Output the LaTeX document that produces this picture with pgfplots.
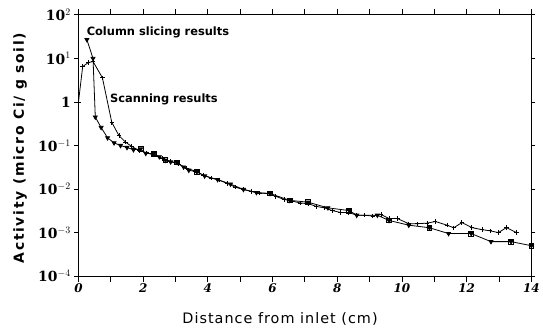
\documentclass[border=0pt]{standalone}
\usepackage{pgfplots}
\pgfplotsset{compat=1.18}
\usepackage{fontspec}
\setmainfont{DejaVu Sans}
\newfontfamily\annfont{DejaVu Sans}
\newfontfamily\tickfont{DejaVu Serif}
\newfontfamily\ylabfont[LetterSpace=12]{DejaVu Sans}
\newfontfamily\xlabfont[LetterSpace=7]{DejaVu Sans}
\begin{document}
\begin{tikzpicture}
\begin{axis}[
  name=ax,
  scale only axis,
  width=456pt, height=263pt,
  ymode=log,
  xmin=0, xmax=14,
  ymin=1e-4, ymax=1e2,
  xtick={0,2,...,14},
  minor x tick num=1,
  ytick={1e-4,1e-3,1e-2,1e-1,1,1e1,1e2},
  yticklabels={{10$^{-4}$},{10$^{-3}$},{10$^{-2}$},{10$^{-1}$},{1},{10$^{1}$},{10$^{2}$}},
  yminorticks=false,
  xticklabel style={font=\tickfont\bfseries\itshape\fontsize{12}{12}\selectfont},
  yticklabel style={font=\tickfont\bfseries\fontsize{14}{14}\selectfont},
  /pgf/number format/assume math mode=true,
  tick align=outside,
  xtick style={/pgfplots/major tick length=6pt, /pgfplots/minor tick length=6pt},
  ytick style={/pgfplots/major tick length=4pt},
  axis line style={line width=1pt},
  every tick/.style={black, line width=0.9pt},
  clip=false,
  xlabel={Distance from inlet (cm)},
  ylabel={Activity (micro Ci/ g soil)},
  x label style={at={(axis description cs:0.445,-0.163)}, anchor=center, font=\xlabfont\fontsize{14.5}{15}\selectfont},
  y label style={at={(axis description cs:-0.129,0.49)}, anchor=center, font=\ylabfont\bfseries\fontsize{14}{15}\selectfont},
]
% Scanning results
\addplot[black, line width=0.8pt, mark=+, mark size=2.2pt] coordinates {
(0,1) (0.13,6.5) (0.3,8) (0.45,8.5) (0.74,3.6) (1.03,0.34) (1.25,0.17)
(1.45,0.12) (1.65,0.095) (1.87,0.077) (2.1,0.068) (2.35,0.06) (2.6,0.05)
(2.85,0.043) (3.1,0.037) (3.35,0.03) (3.6,0.026) (3.85,0.021) (4.1,0.018)
(4.35,0.016) (4.6,0.0135) (4.85,0.011) (5.1,0.0098) (5.35,0.0088) (5.6,0.0081)
(5.85,0.0079) (6.1,0.0068) (6.35,0.0058) (6.6,0.0053) (6.85,0.0048) (7.1,0.0046)
(7.35,0.004) (7.6,0.0037) (7.85,0.0032) (8.1,0.0029) (8.35,0.0029) (8.6,0.0025)
(8.85,0.0025) (9.1,0.0024) (9.35,0.0026) (9.6,0.0021) (9.86,0.0021) (10.21,0.0016)
(10.47,0.0016) (10.78,0.00165) (11.03,0.0018) (11.39,0.00148) (11.6,0.00129)
(11.85,0.0017) (12.16,0.0013) (12.47,0.00117) (12.72,0.0011) (12.98,0.001)
(13.23,0.0013) (13.54,0.001)
};
% Column slicing results
\addplot[black, line width=0.8pt, mark=triangle*, mark size=2.3pt,
  every mark/.append style={rotate=180}] coordinates {
(0.26,27) (0.45,10) (0.52,0.45) (0.7,0.26) (0.9,0.15) (1.1,0.115) (1.3,0.1)
(1.5,0.09) (1.7,0.08) (1.92,0.083) (2.08,0.066) (2.33,0.065) (2.5,0.055)
(2.69,0.046) (2.85,0.042) (3.05,0.041) (3.25,0.032) (3.41,0.027) (3.66,0.025)
(3.9,0.02) (4.3,0.0165) (4.7,0.013) (5.1,0.0098) (5.5,0.0083) (5.92,0.0079)
(6.53,0.0055) (7.09,0.005) (7.71,0.0037) (8.37,0.0032) (8.6,0.0025) (9.24,0.0025)
(9.6,0.0019) (10.21,0.00148) (10.85,0.00129) (11.44,0.00095) (12.14,0.00095)
(12.75,0.00062) (13.37,0.00062) (14,0.0005)
};
% square marks on the column slicing curve
\addplot[only marks, black, mark=square, mark size=2.4pt, line width=0.8pt, mark options={fill=white}] coordinates {
(1.92,0.083) (2.33,0.065) (2.69,0.046) (3.05,0.041) (3.66,0.025) (5.92,0.0079)
(6.53,0.0055) (7.09,0.005) (8.37,0.0032) (9.6,0.0019) (10.85,0.00129)
(12.14,0.00095) (13.37,0.00062) (14,0.0005)
};
\node[anchor=west, font=\annfont\bfseries\fontsize{11.5}{11.5}\selectfont, inner sep=0pt] at (axis cs:0.25,39) {Column slicing results};
\node[anchor=west, font=\annfont\bfseries\fontsize{11.5}{11.5}\selectfont, inner sep=0pt] at (axis cs:0.97,1.15) {Scanning results};
\end{axis}
\path[use as bounding box] ([shift={(-79pt,-54pt)}]ax.south west) rectangle ([shift={(8pt,15pt)}]ax.north east);
\end{tikzpicture}
\end{document}
